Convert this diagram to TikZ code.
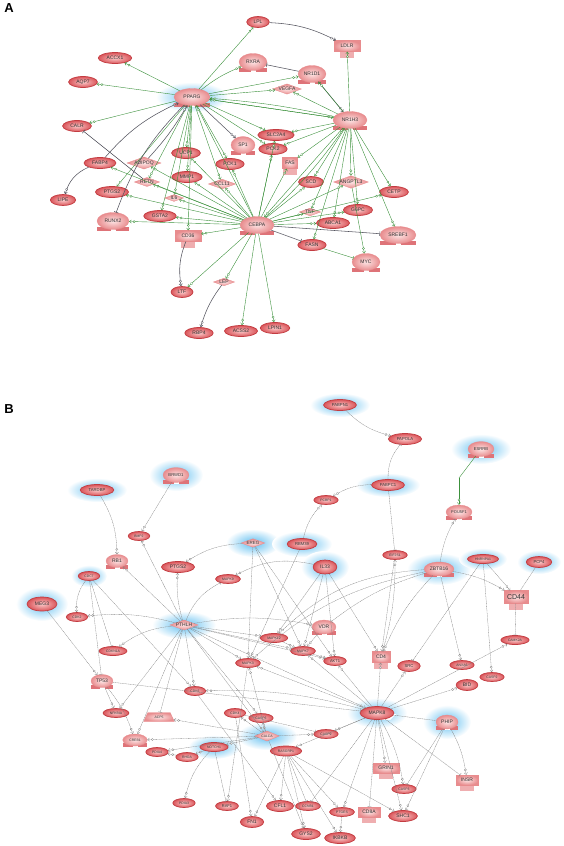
\documentclass[tikz,border=0pt]{standalone}
\usepackage{fontspec}
\setmainfont{Liberation Sans}
\usetikzlibrary{shapes.geometric,arrows.meta,decorations.markings}
\pgfdeclarelayer{background}
\pgfsetlayers{background,main}
\definecolor{genedge}{RGB}{195,60,65}
\definecolor{geneout}{RGB}{218,85,90}
\definecolor{genein}{RGB}{250,200,200}
\definecolor{tfout}{RGB}{232,140,142}
\definecolor{tfin}{RGB}{253,228,228}
\definecolor{tfbar}{RGB}{222,115,120}
\definecolor{grn}{RGB}{60,145,60}
\definecolor{drk}{RGB}{85,85,95}
\definecolor{gry}{RGB}{130,130,130}
\definecolor{halo}{RGB}{95,190,240}

\begin{document}
\begin{tikzpicture}[x=1pt,y=-1pt,>={Straight Barb[length=2pt,width=3.2pt]},
  gene/.style={ellipse,draw=genedge,line width=0.7pt,inner color=genein,outer color=geneout,inner xsep=3.5pt,inner ysep=1pt,minimum height=11pt,text=black!80,font=\fontsize{5}{5}\selectfont},
  sm/.style={font=\fontsize{3.4}{3.4}\selectfont,minimum height=9pt,inner xsep=3pt},
  tf/.style={ellipse,draw=tfout,line width=0.3pt,inner color=tfin,outer color=tfout,minimum width=28pt,minimum height=17pt,inner sep=0.5pt,text=black!80,font=\fontsize{5}{5}\selectfont,
    append after command={\pgfextra{\let\tn=\tikzlastnode
      \fill[tfbar] ([yshift=-1pt]\tn.west |- \tn.south) rectangle ([yshift=3pt]\tn.east |- \tn.south);
      \fill[white] ([xshift=-2.5pt,yshift=-1.2pt]\tn.south) rectangle ([xshift=2.5pt,yshift=0.8pt]\tn.south);}}},
  dia/.style={diamond,aspect=2.8,draw=tfout,line width=0.3pt,inner color=tfin,outer color=tfout,inner sep=0.3pt,text=black!80,font=\fontsize{5}{5}\selectfont},
  rec/.style={rectangle,draw=tfout,line width=0.3pt,inner color=tfin,outer color=tfout,minimum width=26pt,minimum height=11pt,inner sep=1pt,text=black!80,font=\fontsize{5}{5}\selectfont,
    append after command={\pgfextra{\let\rn=\tikzlastnode
      \fill[tfout!70] ([xshift=-7pt]\rn.south) rectangle ([xshift=7pt,yshift=-6pt]\rn.south);}}},
  kin/.style={gene,
    append after command={\pgfextra{\let\kn=\tikzlastnode
      \fill[white] ([yshift=-1pt]\kn.east) -- ([xshift=-4pt,yshift=1.5pt]\kn.south east) -- ([xshift=2pt]\kn.south) -- ([xshift=1pt,yshift=-2pt]\kn.south east) -- ([xshift=2pt,yshift=-1pt]\kn.east) -- cycle;}}},
  trap/.style={trapezium,trapezium left angle=65,trapezium right angle=65,draw=tfout,inner color=tfin,outer color=tfout,inner sep=1pt,minimum height=9pt,text=black!80,font=\fontsize{3.4}{3.4}\selectfont},
  glow/.style={inner color=halo,outer color=white},
  ga/.style={grn,line width=0.4pt,->,postaction=decorate,decoration={markings,mark=at position -5pt with {\draw[grn,fill=white,line width=0.3pt] (0,0) circle (1.1pt);}}},
  gi/.style={grn,line width=0.4pt,-{Bar[width=4pt]}},
  da/.style={drk,line width=0.55pt,->,postaction=decorate,decoration={markings,mark=at position -5pt with {\draw[drk,fill=white,line width=0.3pt] (0,0) circle (1.2pt);}}},
  di/.style={drk,line width=0.55pt,-{Bar[width=4.5pt]}},
  ba/.style={gry,line width=0.3pt,dash pattern=on 1.2pt off 0.5pt,->,postaction=decorate,decoration={markings,mark=at position -5pt with {\draw[gry,solid,fill=white,line width=0.3pt] (0,0) circle (1.1pt);}}},
  bi/.style={gry,line width=0.3pt,dash pattern=on 1.2pt off 0.5pt,-{Bar[width=4pt]}},
  bl/.style={gry,line width=0.3pt,dash pattern=on 1.2pt off 0.5pt}]
\useasboundingbox (0,0) rectangle (564,846);
\node[font=\bfseries\fontsize{13}{13}\selectfont] (labA) at (9,8) {A};
\node[font=\bfseries\fontsize{13}{13}\selectfont] (labB) at (9,409) {B};

\node[gene] (LPL) at (258,22) {LPL};
\node[gene] (ACCX1) at (115,58) {ACCX1};
\node[gene] (AQP7) at (83,82) {AQP7};
\node[tf] (RXRA) at (253,62) {RXRA};
\node[tf,minimum width=36pt] (PPARG) at (192,97) {PPARG};
\node[rec] (LDLR) at (347,46) {LDLR};
\node[tf] (NR1D1) at (312,74) {NR1D1};
\node[dia] (VEGFA) at (287,89) {VEGFA};
\node[tf,minimum width=34pt] (NR1H3) at (350,120) {NR1H3};
\node[gene] (CALR) at (77,126) {CALR};
\node[gene] (SLC2A4) at (276,135) {SLC2A4};
\node[tf,minimum width=24pt] (SP1) at (243,145) {SP1};
\node[gene] (PCK2) at (273,149) {PCK2};
\node[gene] (UCP1) at (186,153) {UCP1};
\node[gene] (FABP4) at (100,163) {FABP4};
\node[dia] (ADIPOQ) at (144,163) {ADIPOQ};
\node[gene] (PCK1) at (230,164) {PCK1};
\node[rec,minimum width=15pt] (FAS) at (290,163) {FAS};
\node[gene] (MMP1) at (187,177) {MMP1};
\node[dia] (RETN) at (147,182) {RETN};
\node[dia] (CCL11) at (222,184) {CCL11};
\node[gene] (SCD) at (311,182) {SCD};
\node[dia] (ANGPTL3) at (351,182) {ANGPTL3};
\node[gene] (PTGS2) at (112,192) {PTGS2};
\node[gene] (CETP) at (394,192) {CETP};
\node[gene] (LIPE) at (63,200) {LIPE};
\node[dia] (IL6) at (174,198) {IL6};
\node[dia] (TNF) at (310,212) {TNF};
\node[gene] (G6PC) at (358,210) {G6PC};
\node[gene] (GSTA2) at (160,216) {GSTA2};
\node[tf,minimum width=32pt] (RUNX2) at (113,221) {RUNX2};
\node[gene] (ABCA1) at (333,223) {ABCA1};
\node[tf,minimum width=34pt] (CEBPA) at (257,225) {CEBPA};
\node[tf,minimum width=36pt] (SREBF1) at (398,235) {SREBF1};
\node[rec] (CD36) at (188,236) {CD36};
\node[gene] (FASN) at (312,245) {FASN};
\node[tf] (MYC) at (366,262) {MYC};
\node[dia] (LEP) at (224,282) {LEP};
\node[gene] (LTF) at (182,292) {LTF};
\node[gene] (LPIN1) at (275,328) {LPIN1};
\node[gene] (ACSS2) at (241,331) {ACSS2};
\node[gene] (RBP4) at (199,333) {RBP4};

\node[gene,font=\fontsize{4.2}{4.2}\selectfont] (PABPN1) at (340,405) {PABPN1};
\node[gene,font=\fontsize{4.2}{4.2}\selectfont] (PAPOLA) at (405,439) {PAPOLA};
\node[tf,minimum width=26pt,minimum height=15pt,font=\fontsize{4.2}{4.2}\selectfont] (ESRRB) at (481,449) {ESRRB};
\node[gene,font=\fontsize{4.2}{4.2}\selectfont] (TARDBP) at (97,490) {TARDBP};
\node[tf,minimum width=26pt,minimum height=15pt,font=\fontsize{4.2}{4.2}\selectfont] (BRWD1) at (176,475) {BRWD1};
\node[gene,font=\fontsize{4.2}{4.2}\selectfont] (PABPC1) at (388,485) {PABPC1};
\node[gene,sm] (PCBP1) at (326,500) {PCBP1};
\node[tf,minimum width=26pt,minimum height=14pt,font=\fontsize{4}{4}\selectfont] (POU5F1) at (459,512) {POU5F1};
\node[gene,sm] (BMP2) at (139,536) {BMP2};
\node[dia,font=\fontsize{4.5}{4.5}\selectfont] (EREG) at (253,543) {EREG};
\node[gene,font=\fontsize{4.2}{4.2}\selectfont] (RBM39) at (302,544) {RBM39};
\node[gene,sm] (EIF2S1) at (395,555) {EIF2S1};
\node[tf,minimum width=22pt,minimum height=13pt] (RB1) at (117,561) {RB1};
\node[gene,sm] (HNRNPA1) at (483,559) {HNRNPA1};
\node[gene,font=\fontsize{4.2}{4.2}\selectfont] (PCP4) at (539,562) {PCP4};
\node[gene] (PTGSb) at (178,567) {PTGS2};
\node[gene,minimum height=14pt] (IL33) at (325,567) {IL33};
\node[tf,minimum width=30pt,minimum height=14pt] (ZBTB16) at (439,569) {ZBTB16};
\node[gene,sm] (CDC7) at (89,576) {CDC7};
\node[kin,sm] (MAPK9) at (228,579) {MAPK9};
\node[rec,minimum width=24pt,minimum height=13pt,font=\fontsize{7}{7}\selectfont] (CD44) at (516,597) {CD44};
\node[gene,minimum height=14pt] (MEG3) at (42,604) {MEG3};
\node[kin,sm] (CDK2) at (77,617) {CDK2};
\node[dia,font=\fontsize{5}{5}\selectfont] (PTHLH) at (184,625) {PTHLH};
\node[tf,minimum width=24pt,minimum height=14pt] (VDR) at (324,627) {VDR};
\node[kin,sm] (MAPK12) at (274,638) {MAPK12};
\node[kin,sm] (CAMK2A) at (515,640) {CAMK2A};
\node[kin,sm] (MAPK7) at (303,651) {MAPK7};
\node[gene,sm] (CDKN1A) at (113,651) {CDKN1A};
\node[rec,minimum width=18pt] (CD4) at (381,657) {CD4};
\node[kin,sm,font=\fontsize{4}{4}\selectfont] (AKT1) at (335,661) {AKT1};
\node[kin,sm] (MAPK3) at (248,663) {MAPK3};
\node[gene,sm] (ANXA6) at (462,665) {ANXA6};
\node[kin,font=\fontsize{4.2}{4.2}\selectfont] (SRC) at (409,666) {SRC};
\node[gene,sm] (CASP2) at (492,677) {CASP2};
\node[tf,minimum width=22pt,minimum height=13pt] (TP53) at (102,681) {TP53};
\node[gene] (BID) at (467,685) {BID};
\node[kin,sm] (CDK6) at (195,691) {CDK6};
\node[gene,sm] (NFKBIA) at (116,713) {NFKBIA};
\node[kin,minimum height=13pt] (MAPK8) at (377,713) {MAPK8};
\node[kin,sm] (CDK4) at (235,713) {CDK4};
\node[trap] (ACP5) at (159,717) {ACP5};
\node[gene,sm] (CASP6) at (261,718) {CASP6};
\node[tf,minimum width=22pt,minimum height=14pt] (PHIP) at (447,722) {PHIP};
\node[gene,sm] (CASP9) at (326,734) {CASP9};
\node[dia,sm,aspect=2.4] (CALCA) at (267,736) {CALCA};
\node[tf,sm,minimum width=24pt,minimum height=12pt] (CREB1) at (135,740) {CREB1};
\node[gene,sm] (NOTCH1) at (214,747) {NOTCH1};
\node[gene,sm,minimum height=10pt] (RASGRP1) at (286,751) {RASGRP1};
\node[gene,sm] (PDIA4) at (157,752) {PDIA4};
\node[gene,sm] (RHOA) at (187,757) {RHOA};
\node[rec,minimum width=26pt,minimum height=10pt] (GRIN1) at (386,768) {GRIN1};
\node[rec,minimum width=22pt,minimum height=10pt] (INSR) at (467,780) {INSR};
\node[gene,sm] (CASP3) at (404,789) {CASP3};
\node[gene,sm] (PDIA3) at (184,803) {PDIA3};
\node[kin,sm,font=\fontsize{4}{4}\selectfont] (RAF1) at (227,806) {RAF1};
\node[gene] (CFL1) at (280,806) {CFL1};
\node[gene,sm] (CCNB1) at (308,806) {CCNB1};
\node[gene,sm] (PTGES) at (342,812) {PTGES};
\node[rec,minimum width=22pt,minimum height=10pt] (CD8A) at (369,812) {CD8A};
\node[gene] (SHC1) at (403,816) {SHC1};
\node[gene] (FN1) at (252,822) {FN1};
\node[gene] (GYS2) at (306,834) {GYS2};
\node[gene] (IKBKB) at (340,838) {IKBKB};
\coordinate (esbend) at (459,478);

\draw[ga] (PPARG) -- (LPL);
\draw[ga] (PPARG) -- (ACCX1);
\draw[ga] (PPARG) -- (AQP7);
\draw[ga] (PPARG) to[bend left=8] (RXRA);
\draw[ga] (PPARG) -- (VEGFA);
\draw[ga] (PPARG) -- (NR1D1);
\draw[ga] (PPARG) -- (NR1H3);
\draw[ga] (PPARG) -- (CALR);
\draw[ga] (PPARG) -- (SLC2A4);
\draw[da] (PPARG) -- (SP1);
\draw[ga] (PPARG) -- (UCP1);
\draw[ga] (PPARG) -- (PCK1);
\draw[ga] (PPARG) -- (RETN);
\draw[ga] (PPARG) -- (MMP1);
\draw[ga] (PPARG) -- (IL6);
\draw[ga] (PPARG) -- (GSTA2);
\draw[ga] (PPARG) -- (PTGS2);
\draw[ga] (PPARG) -- (CD36);
\draw[ga] (PPARG) -- (CCL11);
\draw[ga] (PPARG) -- (PCK2);
\draw[da] (FABP4) to[bend left=12] (PPARG);
\draw[da] (ADIPOQ) to[bend right=6] (PPARG);
\draw[da] (FABP4) to[bend right=25] (LIPE);
\draw[di] (RETN) -- (CALR);
\draw[di] (PPARG) to[bend right=12] (RUNX2);
\draw[da] (LPL) to[bend left=12] (LDLR);
\draw[di] (NR1D1) -- (RXRA);
\draw[da] (NR1D1) -- (NR1H3);
\draw[ga] (NR1H3) -- (LDLR);
\draw[ga] (NR1H3) -- (NR1D1);
\draw[ga] (NR1H3) -- (VEGFA);
\draw[ga] (NR1H3) -- (PPARG);
\draw[ga] (NR1H3) to[bend right=4] (PPARG);
\draw[ga] (NR1H3) -- (SLC2A4);
\draw[ga] (NR1H3) -- (PCK2);
\draw[ga] (NR1H3) -- (FAS);
\draw[ga] (NR1H3) -- (SCD);
\draw[ga] (NR1H3) -- (ANGPTL3);
\draw[ga] (NR1H3) -- (TNF);
\draw[ga] (NR1H3) -- (G6PC);
\draw[ga] (NR1H3) -- (ABCA1);
\draw[ga] (NR1H3) -- (CETP);
\draw[ga] (NR1H3) -- (SREBF1);
\draw[ga] (NR1H3) -- (FASN);
\draw[ga] (NR1H3) -- (CEBPA);
\draw[ga] (CEBPA) -- (PPARG);
\draw[ga] (CEBPA) -- (LEP);
\draw[ga] (CEBPA) -- (LTF);
\draw[ga] (CEBPA) -- (ACSS2);
\draw[ga] (CEBPA) -- (LPIN1);
\draw[ga] (CEBPA) -- (CD36);
\draw[ga] (CEBPA) -- (RUNX2);
\draw[ga] (CEBPA) -- (GSTA2);
\draw[ga] (CEBPA) -- (IL6);
\draw[ga] (CEBPA) -- (RETN);
\draw[ga] (CEBPA) -- (MMP1);
\draw[ga] (CEBPA) -- (CCL11);
\draw[ga] (CEBPA) -- (PTGS2);
\draw[ga] (CEBPA) -- (FABP4);
\draw[ga] (CEBPA) -- (ADIPOQ);
\draw[ga] (CEBPA) -- (UCP1);
\draw[ga] (CEBPA) -- (PCK1);
\draw[ga] (CEBPA) -- (PCK2);
\draw[ga] (CEBPA) -- (SLC2A4);
\draw[ga] (CEBPA) -- (FAS);
\draw[ga] (CEBPA) -- (SCD);
\draw[ga] (CEBPA) -- (TNF);
\draw[ga] (CEBPA) -- (ABCA1);
\draw[ga] (CEBPA) -- (ANGPTL3);
\draw[ga] (CEBPA) -- (G6PC);
\draw[ga] (CEBPA) -- (CETP);
\draw[ga] (CEBPA) to[bend right=6] (NR1H3);
\draw[di] (CEBPA) -- (SREBF1);
\draw[di] (CEBPA) -- (FASN);
\draw[gi] (FASN) -- (MYC);
\draw[ga] (ANGPTL3) -- (MYC);
\draw[da] (CD36) to[bend right=15] (LTF);
\draw[da] (LEP) to[bend right=10] (RBP4);

\draw[ba] (PABPN1) to[bend right=15] (PAPOLA);
\draw[bi] (PABPC1) to[bend left=20] (PAPOLA);
\draw[ba] (PABPC1) to[bend right=15] (PCBP1);
\draw[bi] (PABPC1) -- (EIF2S1);
\draw[ba] (RBM39) to[bend left=15] (PCBP1);
\draw[grn,line width=0.4pt] (ESRRB) -- (esbend);
\draw[ga] (esbend) -- (POU5F1);
\draw[ba] (ZBTB16) to[bend left=10] (POU5F1);
\draw[ba] (TARDBP) to[bend left=15] (RB1);
\draw[ba] (BRWD1) -- (BMP2);
\draw[ba] (EREG) to[bend right=15] (PTGSb);
\draw[ba] (IL33) to[bend right=20] (MAPK9);
\draw[bi] (PTHLH) to[bend left=20] (MAPK9);
\draw[ba] (PTHLH) -- (BMP2);
\draw[ba] (PTHLH) -- (RB1);
\draw[ba] (PTHLH) to[bend left=10] (PTGSb);
\draw[ba] (PTHLH) to[bend right=10] (CDK2);
\draw[ba] (PTHLH) to[bend right=15] (CDKN1A);
\draw[ba] (PTHLH) to[bend left=10] (VDR);
\draw[ba] (PTHLH) -- (MAPK12);
\draw[ba] (PTHLH) -- (MAPK7);
\draw[ba] (PTHLH) -- (MAPK3);
\draw[ba] (PTHLH) -- (AKT1);
\draw[ba] (PTHLH) -- (MAPK8);
\draw[ba] (PTHLH) -- (CDK6);
\draw[ba] (PTHLH) -- (NFKBIA);
\draw[ba] (PTHLH) -- (CREB1);
\draw[bi] (PTHLH) -- (ACP5);
\draw[ba] (PTHLH) -- (CALCA);
\draw[ba] (PTHLH) -- (CASP6);
\draw[ba] (CDC7) to[bend right=20] (CDK2);
\draw[bi] (CDC7) -- (CDKN1A);
\draw[bi] (CDC7) -- (TP53);
\draw[ba] (CDC7) -- (CDK6);
\draw[ba] (MEG3) -- (TP53);
\draw[bi] (TP53) -- (MAPK8);
\draw[ba] (TP53) -- (NFKBIA);
\draw[ba] (TP53) to[bend left=10] (CREB1);
\draw[ba] (EREG) -- (MAPK3);
\draw[ba] (EREG) -- (MAPK7);
\draw[ba] (EREG) -- (AKT1);
\draw[ba] (RBM39) -- (MAPK3);
\draw[ba] (IL33) -- (MAPK12);
\draw[ba] (IL33) -- (MAPK7);
\draw[ba] (IL33) -- (AKT1);
\draw[ba] (IL33) -- (CD4);
\draw[ba] (VDR) -- (MAPK7);
\draw[bi] (ZBTB16) to[bend right=10] (VDR);
\draw[ba] (ZBTB16) to[bend left=10] (CD44);
\draw[ba] (ZBTB16) -- (ANXA6);
\draw[ba] (ZBTB16) to[bend right=10] (CD4);
\draw[ba] (ZBTB16) to[bend right=20] (MAPK12);
\draw[ba] (ZBTB16) to[bend right=15] (MAPK3);
\draw[ba] (HNRNPA1) -- (CD44);
\draw[bi] (HNRNPA1) -- (SRC);
\draw[ba] (HNRNPA1) -- (CASP2);
\draw[bl] (PCP4) -- (CD44);
\draw[bi] (CD44) -- (CAMK2A);
\draw[ba] (EIF2S1) -- (CD4);
\draw[ba] (CD4) to[bend right=8] (EIF2S1);
\draw[ba] (MAPK8) -- (CAMK2A);
\draw[ba] (MAPK8) -- (BID);
\draw[ba] (MAPK8) -- (CD4);
\draw[ba] (MAPK8) -- (SRC);
\draw[ba] (MAPK8) -- (AKT1);
\draw[ba] (MAPK8) -- (MAPK7);
\draw[ba] (MAPK8) -- (GRIN1);
\draw[ba] (MAPK8) to[bend left=10] (CASP3);
\draw[ba] (MAPK8) -- (SHC1);
\draw[bi] (MAPK8) -- (CD8A);
\draw[ba] (MAPK8) -- (PTGES);
\draw[ba] (MAPK8) -- (CASP9);
\draw[bi] (MAPK8) -- (INSR);
\draw[ba] (MAPK8) -- (RASGRP1);
\draw[ba] (MAPK8) to[bend right=8] (CDK6);
\draw[ba] (MAPK8) -- (MAPK3);
\draw[bi] (MAPK8) -- (CCNB1);
\draw[bl] (MAPK8) -- (PHIP);
\draw[ba] (PHIP) to[bend left=10] (INSR);
\draw[bi] (PHIP) -- (CASP3);
\draw[ba] (PHIP) -- (SHC1);
\draw[ba] (CALCA) -- (CDK4);
\draw[ba] (CALCA) -- (CASP6);
\draw[ba] (CALCA) -- (NOTCH1);
\draw[ba] (CALCA) -- (CREB1);
\draw[ba] (CALCA) -- (ACP5);
\draw[ba] (CALCA) -- (PDIA4);
\draw[ba] (CALCA) -- (CASP9);
\draw[ba] (CALCA) -- (MAPK3);
\draw[ba] (CALCA) -- (GYS2);
\draw[ba] (NOTCH1) -- (RHOA);
\draw[ba] (RHOA) -- (PDIA4);
\draw[ba] (NOTCH1) to[bend right=15] (PDIA3);
\draw[bi] (NOTCH1) -- (RAF1);
\draw[ba] (RASGRP1) -- (CFL1);
\draw[ba] (RASGRP1) -- (GYS2);
\draw[ba] (RASGRP1) -- (IKBKB);
\draw[ba] (RASGRP1) -- (PTGES);
\draw[ba] (RASGRP1) -- (FN1);
\draw[bi] (RASGRP1) -- (CCNB1);
\draw[ba] (RASGRP1) -- (SHC1);
\draw[ba] (CDK4) -- (FN1);
\draw[ba] (MAPK3) -- (RAF1);
\draw[ba] (CDK6) -- (CFL1);
\draw[bi] (CDK4) -- (CASP9);
\draw[ba] (PTGES) -- (IKBKB);
\draw[ba] (MAPK12) -- (MAPK7);
\draw[ba] (MAPK7) -- (AKT1);

\begin{pgfonlayer}{background}
\shade[glow] (PPARG) ellipse (36 and 15);
\shade[glow] (PABPN1) ellipse (30 and 12);
\shade[glow] (ESRRB) ellipse (30 and 15);
\shade[glow] (TARDBP) ellipse (30 and 12);
\shade[glow] (BRWD1) ellipse (27 and 16);
\shade[glow] (PABPC1) ellipse (32 and 12);
\shade[glow] (EREG) ellipse (27 and 14);
\shade[glow] (RBM39) ellipse (30 and 13);
\shade[glow] (IL33) ellipse (24 and 16);
\shade[glow] (ZBTB16) ellipse (32 and 16);
\shade[glow] (HNRNPA1) ellipse (24 and 11);
\shade[glow] (PCP4) ellipse (22 and 12);
\shade[glow] (CDC7) ellipse (18 and 11);
\shade[glow] (MEG3) ellipse (26 and 17);
\shade[glow] (PTHLH) ellipse (32 and 14);
\shade[glow] (MAPK8) ellipse (30 and 15);
\shade[glow] (PHIP) ellipse (24 and 17);
\shade[glow] (CALCA) ellipse (30 and 14);
\shade[glow] (NOTCH1) ellipse (26 and 12);
\end{pgfonlayer}
\end{tikzpicture}
\end{document}
